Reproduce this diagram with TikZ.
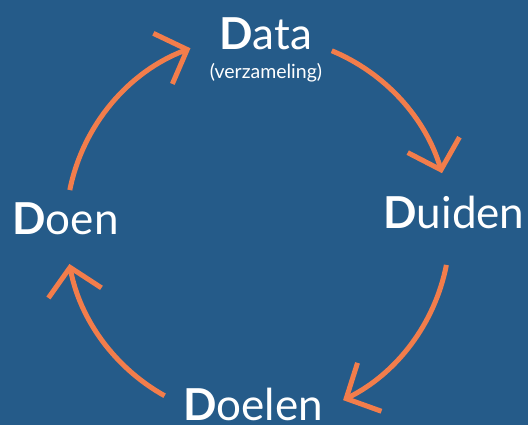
\documentclass[tikz,border=0pt]{standalone}
\usepackage{fontspec}
\setmainfont{Lato}
\usetikzlibrary{arrows.meta}
\definecolor{bgblue}{HTML}{255B89}
\definecolor{arcorange}{HTML}{F27D4B}

\begin{document}
\begin{tikzpicture}[x=1pt,y=1pt,
    base/.style={text=white, inner sep=0pt, anchor=base, font=\fontsize{44}{50}\selectfont},
    sub/.style={text=white, inner sep=0pt, anchor=base, font=\fontsize{19.5}{22}\selectfont},
    cyc/.style={arcorange, line width=5pt, -{Straight Barb[length=26pt,width=54pt]}}]

    \useasboundingbox (0,0) rectangle (528,-425);
    \fill[bgblue] (0,0) rectangle (528,-425);

    \node[base] (1) at (265.5,-50) {\textbf{D}ata};
    \node[sub] (1s) at (266,-79) {(verzameling)};
    \node[base] (2) at (454,-229) {\textbf{D}uiden};
    \node[base] (3) at (253,-420.5) {\textbf{D}oelen};
    \node[base] (4) at (65.5,-235) {\textbf{D}oen};

    % cycle arrows, clockwise
    \coordinate (c) at (258,-228);
    \draw[cyc] ([shift={(168.6:192)}]c) arc[start angle=168.6, end angle=110.6, radius=192];
    \draw[cyc] ([shift={(67.4:192)}]c) arc[start angle=67.4, end angle=16.6, radius=192];
    \draw[cyc] ([shift={(-11.1:192)}]c) arc[start angle=-11.1, end angle=-63.7, radius=192];
    \draw[cyc] ([shift={(-119.1:192)}]c) arc[start angle=-119.1, end angle=-169.2, radius=192];
\end{tikzpicture}
\end{document}
